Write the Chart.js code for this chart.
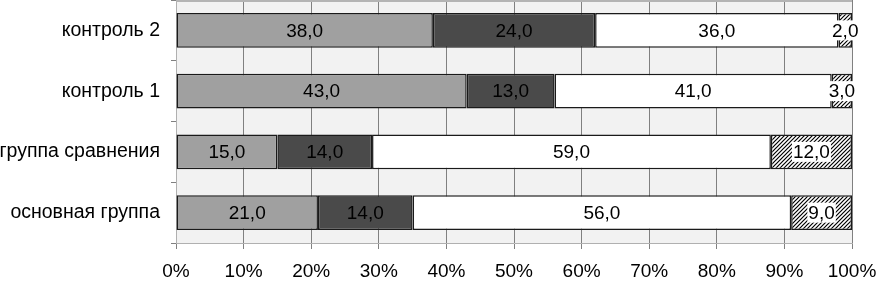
<!DOCTYPE html>
<html>
<head>
<meta charset="utf-8">
<script src="https://cdn.jsdelivr.net/npm/chart.js@4"></script>
<style>
  html, body { margin: 0; padding: 0; background: #fff; }
  #wrap { width: 877px; height: 282px; }
</style>
</head>
<body>
<div id="wrap"><canvas id="chart"></canvas></div>
<script>
const categories = ["контроль 2", "контроль 1", "группа сравнения", "основная группа"];
const series1 = [38, 43, 15, 21];
const series2 = [24, 13, 14, 14];
const series3 = [36, 41, 59, 56];
const series4 = [2, 3, 12, 9];
const xTicks = [0, 10, 20, 30, 40, 50, 60, 70, 80, 90, 100];

function hatch() {
    let c = document.createElement("canvas");
    c.width = 4; c.height = 4;
    let g = c.getContext("2d");
    g.fillStyle = "#fff";
    g.fillRect(0, 0, 4, 4);
    g.strokeStyle = "#000";
    g.lineWidth = 1.2;
    g.beginPath();
    g.moveTo(-1, 5); g.lineTo(5, -1);
    g.moveTo(-1, 1); g.lineTo(1, -1);
    g.moveTo(3, 5); g.lineTo(5, 3);
    g.stroke();
    return g.createPattern(c, "repeat");
}

const FAMILY = "'Liberation Sans', Arial, sans-serif";
const FONT = "19px " + FAMILY;

const bgPlugin = {
    id: "bg",
    beforeDraw(chart) {
        let a = chart.chartArea, ctx = chart.ctx;
        ctx.save();
        ctx.fillStyle = "#f2f2f2";
        ctx.fillRect(a.left, a.top, a.right - a.left, a.bottom - a.top);
        ctx.restore();
    },
    afterDraw(chart) {
        let a = chart.chartArea, ctx = chart.ctx;
        ctx.save();
        ctx.fillStyle = "#b4b4b4";
        ctx.fillRect(a.left, 0, a.right - a.left, 2);
        ctx.restore();
    }
};

const labelPlugin = {
    id: "vals",
    afterDatasetsDraw(chart) {
        let ctx = chart.ctx;
        ctx.save();
        ctx.font = FONT;
        ctx.textAlign = "center";
        ctx.textBaseline = "middle";
        chart.data.datasets.forEach((ds, i) => {
            chart.getDatasetMeta(i).data.forEach((el, j) => {
                let p = el.getCenterPoint();
                let txt = ds.data[j].toFixed(1).replace(".", ",");
                if (i === 3) {
                    let w = ctx.measureText(txt).width;
                    ctx.fillStyle = "#fff";
                    ctx.fillRect(p.x - w / 2 - 1, p.y - 10, w + 2, 20);
                }
                ctx.fillStyle = "#000";
                ctx.fillText(txt, p.x, p.y + 1);
            });
        });
        ctx.restore();
    }
};

new Chart(document.getElementById("chart"), {
    type: "bar",
    data: {
        labels: categories,
        datasets: [
            { label: "1", data: series1, backgroundColor: "#a0a0a0" },
            { label: "2", data: series2, backgroundColor: "#4a4a4a" },
            { label: "3", data: series3, backgroundColor: "#ffffff" },
            { label: "4", data: series4, backgroundColor: hatch() }
        ].map(d => Object.assign(d, {
            borderColor: "#1a1a1a",
            borderWidth: 1.5,
            borderSkipped: false,
            barPercentage: 0.57,
            categoryPercentage: 1
        }))
    },
    options: {
        indexAxis: "y",
        responsive: true,
        maintainAspectRatio: false,
        animation: false,
        layout: { padding: { left: 0, right: 25, top: 0, bottom: 0 } },
        plugins: { legend: { display: false }, tooltip: { enabled: false } },
        scales: {
            x: {
                stacked: true,
                min: 0,
                max: 100,
                afterBuildTicks(scale) { scale.ticks = xTicks.map(v => ({ value: v })); },
                afterFit(scale) {
                    scale.height = 39;
                    scale.paddingLeft = 0;
                    scale.paddingRight = 0;
                },
                grid: { color: "#808080", lineWidth: 1, tickLength: 6, tickColor: "#808080" },
                border: { color: "#b0b0b0" },
                ticks: {
                    color: "#000",
                    font: { family: FAMILY, size: 19 },
                    padding: 11,
                    maxRotation: 0,
                    callback: v => v + "%"
                }
            },
            y: {
                stacked: true,
                afterFit(scale) {
                    scale.width = 176;
                    scale.paddingTop = 0;
                    scale.paddingBottom = 0;
                },
                grid: { drawOnChartArea: false, offset: true, tickLength: 5, tickColor: "#808080" },
                border: { color: "#b0b0b0" },
                ticks: {
                    color: "#000",
                    font: { family: FAMILY, size: 19.5 },
                    padding: 11
                }
            }
        }
    },
    plugins: [bgPlugin, labelPlugin]
});
</script>
</body>
</html>
